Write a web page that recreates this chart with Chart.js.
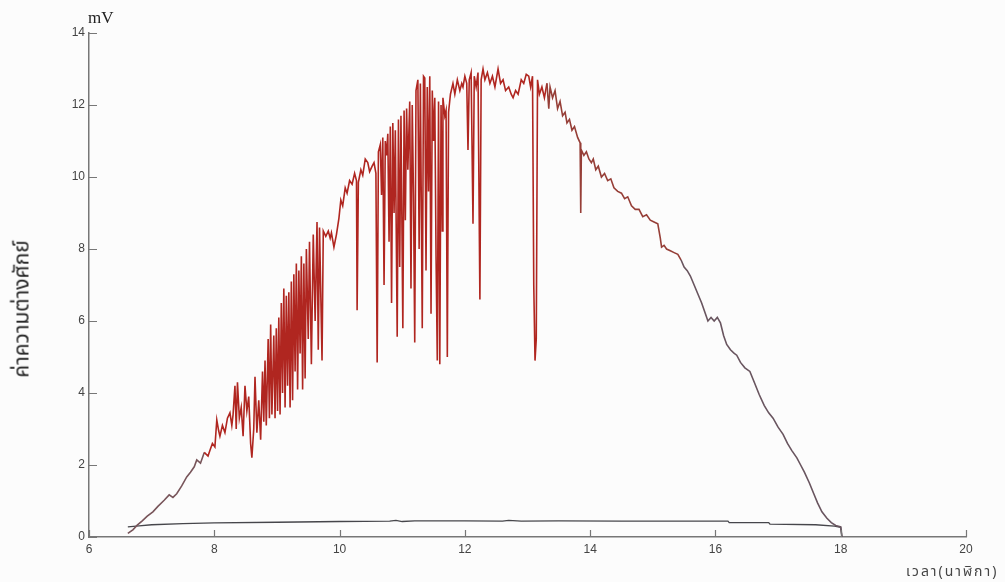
<!DOCTYPE html>
<html>
<head>
<meta charset="utf-8">
<script src="https://cdn.jsdelivr.net/npm/chart.js@4.4.0/dist/chart.umd.min.js"></script>
<style>
  body { margin: 0; background: #fcfcfc; }
  #wrap { position: relative; width: 1005px; height: 582px; }
  .lbl { position: absolute; color: #222; white-space: nowrap; }
  #unit { left: 88px; top: 8px; font: 17px "Liberation Serif", serif; }
  #ytitle { left: 22px; top: 309px; font: 21px "Noto Sans Thai", "Loma", "Garuda", sans-serif;
            transform: translate(-50%, -50%) rotate(-90deg); }
  #xtitle { left: 906px; top: 561px; font: 14px "Noto Sans Thai", "Loma", sans-serif; color: #444; letter-spacing: 2px; }
</style>
</head>
<body>
<div id="wrap">
  <canvas id="voltChart" width="1005" height="582"></canvas>
  <div class="lbl" id="unit">mV</div>
  <div class="lbl" id="ytitle">ค่าความต่างศักย์</div>
  <div class="lbl" id="xtitle">เวลา(นาฬิกา)</div>
</div>
<script>
const xTicks = [6, 8, 10, 12, 14, 16, 18, 20];
const yTicks = [0, 2, 4, 6, 8, 10, 12, 14];

// measured potential difference (mV) over the day
const hours = [
  6.62, 6.70, 6.77, 6.85, 6.93, 7.02, 7.10, 7.20, 7.28, 7.34, 7.40, 7.48, 7.56, 7.62, 7.68, 7.72,
  7.78, 7.84, 7.90, 7.93, 7.97, 8.01, 8.04, 8.07, 8.09, 8.13, 8.17, 8.21, 8.25, 8.28,
  8.30, 8.33, 8.35, 8.37, 8.40, 8.43, 8.46, 8.49, 8.52, 8.55, 8.58, 8.60, 8.63, 8.65, 8.68, 8.71,
  8.74, 8.77, 8.79, 8.81, 8.83, 8.86, 8.88, 8.90, 8.92, 8.95, 8.97, 8.99, 9.01, 9.03, 9.05, 9.07,
  9.09, 9.11, 9.13, 9.15, 9.17, 9.19, 9.21, 9.23, 9.25, 9.27, 9.29, 9.31, 9.33, 9.35, 9.37, 9.39,
  9.41, 9.43, 9.45, 9.47, 9.50, 9.52, 9.55, 9.58, 9.61, 9.64, 9.66, 9.68, 9.72, 9.74, 9.78, 9.82,
  9.85, 9.87, 9.91, 9.95, 9.99, 10.02, 10.05, 10.09, 10.12, 10.16, 10.20, 10.24, 10.27, 10.28, 10.30, 10.34,
  10.37, 10.41, 10.45, 10.48, 10.52, 10.55, 10.58, 10.60, 10.62, 10.65, 10.67, 10.69, 10.71, 10.73, 10.75, 10.77,
  10.79, 10.81, 10.83, 10.85, 10.87, 10.89, 10.92, 10.94, 10.96, 10.98, 11.01, 11.03, 11.05, 11.07, 11.09, 11.12,
  11.14, 11.16, 11.18, 11.20, 11.22, 11.25, 11.27, 11.29, 11.32, 11.34, 11.36, 11.38, 11.40, 11.42, 11.44, 11.46,
  11.48, 11.50, 11.52, 11.54, 11.56, 11.58, 11.60, 11.62, 11.64, 11.65, 11.68, 11.70, 11.72, 11.74, 11.77, 11.81,
  11.84, 11.88, 11.92, 11.95, 11.97, 12.00, 12.03, 12.05, 12.07, 12.10, 12.13, 12.15, 12.18, 12.21, 12.24, 12.26,
  12.29, 12.32, 12.36, 12.40, 12.44, 12.48, 12.53, 12.57, 12.61, 12.65, 12.70, 12.74, 12.77, 12.81, 12.85, 12.90,
  12.94, 12.98, 13.02, 13.05, 13.08, 13.10, 13.12, 13.14, 13.16, 13.19, 13.23, 13.27, 13.31, 13.34, 13.36, 13.40,
  13.44, 13.48, 13.52, 13.56, 13.60, 13.63, 13.67, 13.71, 13.75, 13.80, 13.84, 13.85, 13.86, 13.90, 13.94, 13.98,
  14.02, 14.05, 14.09, 14.13, 14.18, 14.23, 14.28, 14.33, 14.38, 14.44, 14.50, 14.55, 14.60, 14.66, 14.72, 14.78,
  14.84, 14.90, 14.96, 15.02, 15.08, 15.12, 15.14, 15.18, 15.22, 15.28, 15.34, 15.40, 15.45, 15.50, 15.55, 15.60,
  15.66, 15.72, 15.78, 15.84, 15.88, 15.93, 15.98, 16.03, 16.08, 16.13, 16.18, 16.24, 16.30, 16.34, 16.40, 16.47,
  16.55, 16.62, 16.70, 16.78, 16.85, 16.92, 17.00, 17.08, 17.15, 17.22, 17.30, 17.36, 17.42, 17.50, 17.57, 17.63,
  17.70, 17.78, 17.85, 17.92, 18.00, 18.02
];
const voltage = [
  0.10, 0.20, 0.33, 0.45, 0.58, 0.70, 0.85, 1.02, 1.17, 1.10, 1.20, 1.42, 1.67, 1.80, 1.95, 2.14,
  2.05, 2.35, 2.25, 2.40, 2.60, 2.50, 3.25, 2.95, 2.80, 3.10, 2.90, 3.30, 3.45, 3.10,
  3.40, 4.20, 3.00, 4.30, 3.30, 3.60, 2.80, 4.20, 3.50, 3.90, 2.60, 2.20, 3.00, 4.45, 2.90, 3.80,
  2.70, 4.60, 3.20, 4.90, 3.10, 5.50, 3.30, 5.90, 3.40, 5.60, 3.30, 5.80, 3.50, 6.10, 3.40, 6.50,
  4.00, 6.90, 3.60, 6.70, 4.20, 6.80, 3.60, 7.10, 3.80, 7.30, 4.60, 7.60, 4.10, 7.40, 5.10, 7.80,
  4.10, 7.60, 4.40, 8.00, 5.50, 8.20, 4.80, 8.40, 6.00, 8.75, 5.20, 8.60, 4.90, 8.50, 8.35, 8.50,
  8.30, 8.45, 8.05, 8.40, 8.86, 9.36, 9.20, 9.70, 9.55, 9.90, 9.80, 10.10, 9.90, 6.30, 9.85, 10.20,
  10.05, 10.50, 10.40, 10.15, 10.30, 10.40, 10.10, 4.85, 10.70, 10.90, 9.50, 11.10, 7.00, 11.00, 10.60, 11.20,
  8.20, 11.40, 6.50, 11.50, 9.00, 11.30, 5.56, 11.60, 7.50, 11.70, 5.80, 11.85, 8.80, 11.90, 10.20, 12.10,
  6.90, 12.00, 9.50, 5.40, 12.40, 12.70, 8.00, 12.60, 5.80, 12.80, 12.75, 7.40, 12.50, 9.60, 12.80, 6.20,
  12.40, 11.00, 12.20, 7.80, 4.90, 12.10, 4.80, 12.00, 8.50, 12.20, 11.70, 11.85, 5.00, 11.80, 12.30, 12.60,
  12.30, 12.70, 12.40, 12.60, 12.50, 12.80, 12.60, 10.75, 12.70, 12.90, 8.70, 12.80, 12.50, 12.90, 6.60, 12.70,
  13.00, 12.70, 12.90, 12.60, 12.80, 12.50, 13.00, 12.60, 12.70, 12.40, 12.50, 12.30, 12.20, 12.40, 12.30, 12.70,
  12.60, 12.85, 12.80, 12.50, 12.80, 7.00, 4.90, 5.50, 12.70, 12.30, 12.50, 12.20, 12.60, 11.90, 12.50, 12.20,
  12.40, 11.90, 12.10, 11.70, 11.80, 11.50, 11.60, 11.30, 11.40, 11.10, 10.95, 9.00, 10.75, 10.60, 10.70, 10.50,
  10.40, 10.50, 10.20, 10.30, 10.00, 10.10, 9.90, 9.95, 9.70, 9.60, 9.55, 9.40, 9.45, 9.20, 9.10, 9.10,
  8.90, 8.95, 8.80, 8.75, 8.70, 8.30, 8.05, 8.10, 8.00, 7.95, 7.90, 7.85, 7.70, 7.50, 7.40, 7.25,
  7.00, 6.75, 6.50, 6.20, 6.00, 6.10, 6.00, 6.10, 5.95, 5.60, 5.35, 5.20, 5.10, 5.05, 4.85, 4.70,
  4.60, 4.30, 3.95, 3.65, 3.45, 3.30, 3.05, 2.85, 2.60, 2.40, 2.20, 2.00, 1.80, 1.50, 1.20, 0.95,
  0.70, 0.52, 0.40, 0.32, 0.28, 0.00
];

// reference (lower) trace
const baseHours = [6.62, 6.80, 7.00, 7.50, 8.00, 9.00, 10.00, 10.80, 10.90, 11.00, 11.20, 12.00, 12.60, 12.70, 12.90, 13.50, 14.50, 15.50, 16.20, 16.22, 16.85, 16.87, 17.60, 17.90, 18.00, 18.02];
const baseVoltage = [0.28, 0.31, 0.34, 0.37, 0.39, 0.41, 0.43, 0.44, 0.46, 0.43, 0.45, 0.45, 0.44, 0.46, 0.44, 0.45, 0.44, 0.44, 0.44, 0.40, 0.40, 0.36, 0.34, 0.30, 0.27, 0.00];

const toPoints = (xs, ys) => xs.map((x, i) => ({ x: x, y: ys[i] }));

// red in the busy middle of the day, greyish brown at the quiet ends
function traceColour(ctx) {
  const x = ctx.p0.parsed.x;
  if (x < 7.8) return 'rgb(120,85,90)';
  if (x > 15.4) return 'rgb(105,85,95)';
  if (x > 13.3) return 'rgb(150,62,55)';
  return 'rgb(176,38,32)';
}

// small tick marks pointing into the plot, like the original
const innerTicks = {
  id: 'innerTicks',
  afterDraw(chart) {
    const { ctx, scales: { x, y } } = chart;
    ctx.save();
    ctx.strokeStyle = '#777';
    ctx.lineWidth = 1.2;
    ctx.beginPath();
    y.ticks.forEach(t => {
      const py = Math.round(y.getPixelForValue(t.value)) + 0.5;
      ctx.moveTo(x.left, py);
      ctx.lineTo(x.left + 8, py);
    });
    x.ticks.forEach(t => {
      const px = Math.round(x.getPixelForValue(t.value)) + 0.5;
      ctx.moveTo(px, y.bottom);
      ctx.lineTo(px, y.bottom - 7);
    });
    ctx.stroke();
    ctx.restore();
  }
};

const tickFont = { family: '"Liberation Sans Narrow", "Liberation Sans", Arial, sans-serif', size: 12 };

new Chart(document.getElementById('voltChart'), {
  type: 'line',
  data: {
    datasets: [
      {
        data: toPoints(hours, voltage),
        borderColor: 'rgb(176,38,32)',
        segment: { borderColor: traceColour },
        borderWidth: 1.6,
        pointRadius: 0,
        tension: 0
      },
      {
        data: toPoints(baseHours, baseVoltage),
        borderColor: 'rgb(70,70,75)',
        borderWidth: 1.3,
        pointRadius: 0,
        tension: 0
      }
    ]
  },
  options: {
    responsive: false,
    animation: false,
    devicePixelRatio: 1,
    layout: { padding: { top: 33, right: 39, left: 0, bottom: 0 } },
    plugins: { legend: { display: false }, tooltip: { enabled: false } },
    scales: {
      x: {
        type: 'linear',
        min: 6,
        max: 20,
        afterBuildTicks: s => { s.ticks = xTicks.map(v => ({ value: v })); },
        afterFit: s => { s.height = 45; },
        grid: { display: false, drawTicks: false },
        border: { display: true, color: '#777', width: 1.5 },
        ticks: { color: '#444', font: tickFont, padding: 5, maxRotation: 0 }
      },
      y: {
        type: 'linear',
        min: 0,
        max: 14,
        afterBuildTicks: s => { s.ticks = yTicks.map(v => ({ value: v })); },
        afterFit: s => { s.width = 89; },
        grid: { display: false, drawTicks: false },
        border: { display: true, color: '#777', width: 1.5 },
        ticks: { color: '#444', font: tickFont, padding: 4 }
      }
    }
  },
  plugins: [innerTicks]
});
</script>
</body>
</html>
